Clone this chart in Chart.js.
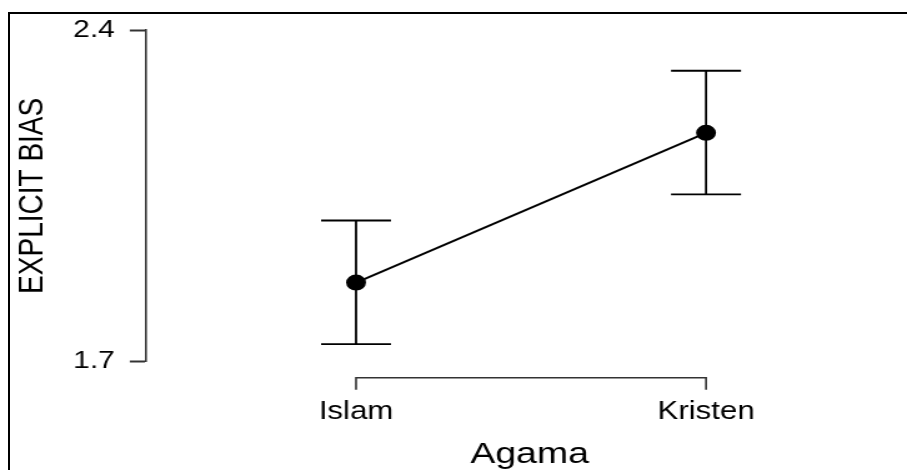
<!DOCTYPE html>
<html>
<head>
<meta charset="utf-8">
<script src="https://cdn.jsdelivr.net/npm/chart.js@4.4.1/dist/chart.umd.min.js"></script>
<style>
  html, body { margin: 0; padding: 0; background: #fff; overflow: hidden; }
  #frame { position: absolute; left: 8px; top: 12px; width: 920px; height: 480px; border-left: 2px solid #000; border-top: 2px solid #000; }
  /* the original plot is stretched sideways, so draw narrow and scale it;
     the plot area runs a few pixels past the right edge, like the original */
  #wrap { position: absolute; left: 0; top: 0; width: 731px; height: 470px; transform: scaleX(1.2493); transform-origin: 0 0; }
</style>
</head>
<body>
<div id="wrap"><canvas id="ChartAgama"></canvas></div>
<div id="frame"></div>
<script>
const categories = ['Islam', 'Kristen'];
const means = [1.867, 2.183];
const upper = [1.998, 2.314];
const lower = [1.737, 2.053];
const yTicks = [1.7, 2.4];

const FONT = "'Liberation Sans', Arial, sans-serif";

// error bars drawn behind the points
const errorBars = {
  id: 'errorBars',
  beforeDatasetsDraw(chart) {
    const { ctx, scales: { x, y } } = chart;
    ctx.save();
    ctx.strokeStyle = '#000';
    ctx.lineWidth = 1.8;
    categories.forEach((c, i) => {
      const px = x.getPixelForValue(i);
      const top = y.getPixelForValue(upper[i]);
      const bot = y.getPixelForValue(lower[i]);
      ctx.beginPath();
      ctx.moveTo(px, top); ctx.lineTo(px, bot);
      ctx.moveTo(px - 28, top); ctx.lineTo(px + 28, top);
      ctx.moveTo(px - 28, bot); ctx.lineTo(px + 28, bot);
      ctx.stroke();
    });
    ctx.restore();
  }
};

// JASP style bracket under the categories
const xBracket = {
  id: 'xBracket',
  afterDraw(chart) {
    const { ctx, chartArea, scales: { x } } = chart;
    const x0 = x.getPixelForValue(0);
    const x1 = x.getPixelForValue(categories.length - 1);
    const yl = chartArea.bottom + 16;
    ctx.save();
    ctx.strokeStyle = '#333';
    ctx.lineWidth = 1.6;
    ctx.beginPath();
    ctx.moveTo(x0, yl + 12); ctx.lineTo(x0, yl); ctx.lineTo(x1, yl); ctx.lineTo(x1, yl + 12);
    ctx.stroke();
    ctx.restore();
  }
};

const ctx = document.getElementById('ChartAgama').getContext('2d');

new Chart(ctx, {
  type: 'line',
  data: {
    datasets: [{
      data: means.map((m, i) => ({ x: i, y: m })),
      borderColor: '#000',
      borderWidth: 2,
      backgroundColor: '#000',
      pointBackgroundColor: '#000',
      pointBorderColor: '#000',
      pointRadius: 7,
      pointHoverRadius: 7,
      tension: 0,
      fill: false,
    }]
  },
  options: {
    responsive: true,
    maintainAspectRatio: false,
    animation: false,
    layout: { autoPadding: false, padding: { top: 30, right: 0, bottom: 0, left: 0 } },
    plugins: {
      legend: { display: false },
      tooltip: { enabled: false },
    },
    scales: {
      x: {
        type: 'linear',
        min: -0.6,
        max: 1.592,
        afterBuildTicks: (s) => { s.ticks = categories.map((c, i) => ({ value: i })); },
        afterFit: (s) => { s.height = 108.3; },
        grid: { display: false, drawTicks: false },
        border: { display: false },
        ticks: {
          padding: 35,
          autoSkip: false,
          maxRotation: 0,
          color: '#000',
          font: { family: FONT, size: 25 },
          callback: (v) => categories[v] ?? '',
        },
        title: {
          display: true,
          text: 'Agama',
          color: '#000',
          font: { family: FONT, size: 30, lineHeight: 1 },
          padding: 0,
        },
      },
      y: {
        min: 1.7,
        max: 2.4,
        afterBuildTicks: (s) => { s.ticks = yTicks.map(v => ({ value: v })); },
        afterFit: (s) => { s.width = 116.9; },
        grid: { drawOnChartArea: false, tickLength: 13, tickColor: '#333', tickWidth: 2 },
        border: { display: true, color: '#333', width: 1.6 },
        ticks: {
          padding: 12,
          color: '#000',
          font: { family: FONT, size: 24 },
          callback: (v) => v.toFixed(1),
        },
        title: {
          display: true,
          text: 'EXPLICIT BIAS',
          color: '#000',
          font: { family: FONT, size: 28 },
          padding: { top: 9, bottom: 0 },
        },
      },
    },
  },
  plugins: [errorBars, xBracket],
});
</script>
</body>
</html>
